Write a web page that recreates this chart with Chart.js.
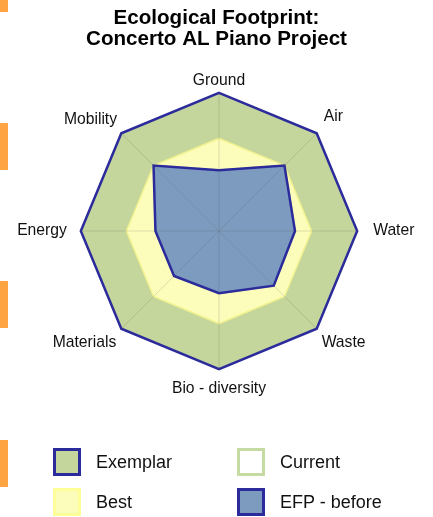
<!DOCTYPE html>
<html>
<head>
<meta charset="utf-8">
<script src="https://cdn.jsdelivr.net/npm/chart.js@4.4.1/dist/chart.umd.min.js"></script>
<style>
  html, body { margin: 0; padding: 0; background: #fff; }
  #wrap { position: relative; width: 433px; height: 517px; overflow: hidden; }
  .tab { position: absolute; left: 0; width: 8px; background: #ffa442; }
  #legend {
    position: absolute; left: 53px; top: 448px;
    display: grid; grid-template-columns: 184px 184px; grid-auto-rows: 40px;
    font-family: "Liberation Sans", Arial, sans-serif; font-size: 18px; color: #111;
  }
  .item { display: flex; align-items: flex-start; }
  .box { width: 28px; height: 28px; box-sizing: border-box; border: 3px solid; }
  .item span { margin-left: 15px; line-height: 28px; }
</style>
</head>
<body>
<div id="wrap">
  <canvas id="radar" width="433" height="517"></canvas>
  <div class="tab" style="top:0;height:12px"></div>
  <div class="tab" style="top:123px;height:47px"></div>
  <div class="tab" style="top:281px;height:47px"></div>
  <div class="tab" style="top:440px;height:47px"></div>
  <div id="legend"></div>
</div>
<script>
// axes, clockwise from the top
const labels = ['Ground', 'Air', 'Water', 'Waste', 'Bio - diversity', 'Materials', 'Energy', 'Mobility'];

// values on a 0-10 scale
const exemplar  = [10, 10, 10, 10, 10, 10, 10, 10];
const best      = [6.7, 6.7, 6.7, 6.7, 6.7, 6.7, 6.7, 6.7];
const current   = [4.4, 6.7, 5.5, 5.6, 4.5, 4.6, 4.6, 6.7];
const efpBefore = [4.4, 6.7, 5.5, 5.6, 4.5, 4.6, 4.6, 6.7];

const titleLines = ['Ecological Footprint:', 'Concerto AL Piano Project'];

const navy = '#2b2b9c';

const datasets = [
  { label: 'Exemplar', data: exemplar, backgroundColor: '#c4d69b', borderColor: navy, borderWidth: 2.5, order: 4 },
  { label: 'Current', data: current, backgroundColor: '#ffffff', borderColor: '#c6dba4', borderWidth: 2, order: 2 },
  { label: 'Best', data: best, backgroundColor: '#fdfdbb', borderColor: '#f2f290', borderWidth: 1.5, order: 3 },
  { label: 'EFP - before', data: efpBefore, backgroundColor: '#7c9bbf', borderColor: navy, borderWidth: 2.5, order: 1 }
];

// distance between the outer ring and each axis label
const labelPad = [3, 10, 16, 7, 10, 7, 14, 6];

const ctx = document.getElementById('radar').getContext('2d');

new Chart(ctx, {
  type: 'radar',
  data: {
    labels: labels,
    datasets: datasets.map(d => Object.assign({ fill: true, pointRadius: 0, pointHoverRadius: 0, borderJoinStyle: 'miter' }, d))
  },
  options: {
    responsive: false,
    animation: false,
    layout: { padding: { top: 0, bottom: 115, left: 0, right: 0 } },
    plugins: {
      legend: { display: false },
      tooltip: { enabled: false },
      title: {
        display: true,
        text: titleLines,
        color: '#000',
        font: { family: '"Liberation Sans", Arial, sans-serif', size: 20.6, weight: 'bold', lineHeight: 1.02 },
        padding: { top: 8, bottom: 18 }
      }
    },
    scales: {
      r: {
        min: 0,
        max: 10,
        ticks: { display: false },
        // grid layer holds the angle lines and point labels; z > 0 draws it over the fills
        grid: { display: false, z: 1 },
        angleLines: { color: 'rgba(90,90,90,0.2)', lineWidth: 1 },
        pointLabels: {
          color: '#111',
          font: { family: '"Liberation Sans", Arial, sans-serif', size: 15.7 },
          padding: c => labelPad[c.index]
        }
      }
    }
  }
});

// legend in two columns: Exemplar, Current / Best, EFP - before
const legend = document.getElementById('legend');
datasets.forEach(d => {
  const item = document.createElement('div');
  item.className = 'item';
  const box = document.createElement('div');
  box.className = 'box';
  box.style.background = d.backgroundColor;
  box.style.borderColor = d.label === 'Best' ? '#ffff99' : d.borderColor;
  const txt = document.createElement('span');
  txt.textContent = d.label;
  item.appendChild(box);
  item.appendChild(txt);
  legend.appendChild(item);
});
</script>
</body>
</html>
